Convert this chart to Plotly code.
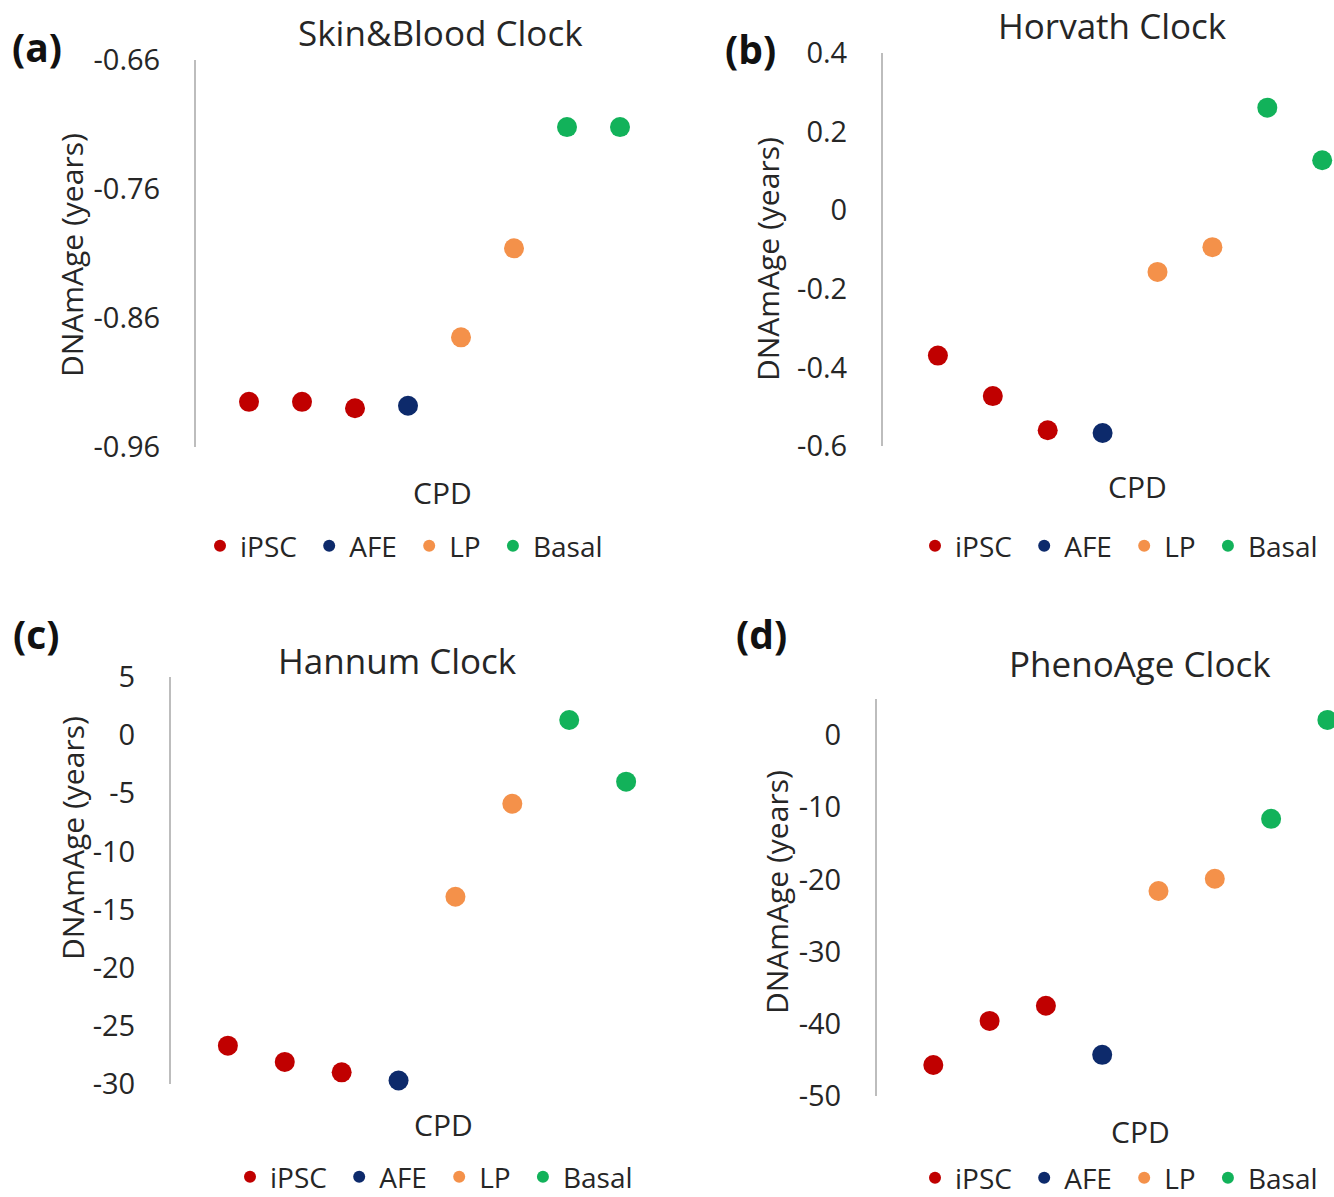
import plotly.graph_objects as go

# ---------------- data ----------------
groups = ["iPSC", "AFE", "LP", "Basal"]
legend_names = ["iPSC\u00a0", "AFE\u00a0", "LP\u00a0", "Basal"]
colors = ["#C00000", "#0D2A6B", "#F4914A", "#12B25A"]
group_x = {"iPSC": [1, 2, 3], "AFE": [4], "LP": [5, 6], "Basal": [7, 8]}

skin_blood = {"iPSC": [-0.925, -0.925, -0.930], "AFE": [-0.928],
              "LP": [-0.875, -0.806], "Basal": [-0.712, -0.712]}
horvath = {"iPSC": [-0.370, -0.473, -0.560], "AFE": [-0.567],
           "LP": [-0.157, -0.094], "Basal": [0.261, 0.127]}
hannum = {"iPSC": [-26.7, -28.1, -29.0], "AFE": [-29.7],
          "LP": [-13.9, -5.9], "Basal": [1.3, -4.0]}
phenoage = {"iPSC": [-45.7, -39.6, -37.5], "AFE": [-44.3],
            "LP": [-21.6, -19.9], "Basal": [-11.6, 2.1]}

titles = ["Skin&Blood Clock", "Horvath Clock", "Hannum Clock", "PhenoAge Clock"]
panel_labels = ["(a)", "(b)", "(c)", "(d)"]

ticks_a = [-0.96, -0.86, -0.76, -0.66]
ticktext_a = ["-0.96", "-0.86", "-0.76", "-0.66"]
ticks_b = [-0.6, -0.4, -0.2, 0, 0.2, 0.4]
ticktext_b = ["-0.6", "-0.4", "-0.2", "0", "0.2", "0.4"]
ticks_c = [-30, -25, -20, -15, -10, -5, 0, 5]
ticktext_c = ["-30", "-25", "-20", "-15", "-10", "-5", "0", "5"]
ticks_d = [-50, -40, -30, -20, -10, 0]
ticktext_d = ["-50", "-40", "-30", "-20", "-10", "0"]

# ---------------- layout geometry (pixels) ----------------
W, H = 1334, 1197
FONT = "Open Sans"
TXT = "#262626"

def px(x):
    return x / W

def py(y):
    return 1 - y / H

panels = [
    dict(data=skin_blood, xdom=[px(196), px(673)], xr=[0, 9],
         ydom=[py(447), py(60)], yr=[-0.96, -0.66], tv=ticks_a, tt=ticktext_a,
         title_xy=(440, 32), lab_xy=(37, 46), ytitle_xy=(72, 255), cpd_xy=(442, 492),
         leg_xy=(200, 546)),
    dict(data=horvath, xdom=[px(883), 1.0], xr=[0, (W - 883) / 54.9],
         ydom=[py(446), py(53)], yr=[-0.6, 0.4], tv=ticks_b, tt=ticktext_b,
         title_xy=(1112, 25), lab_xy=(750, 48), ytitle_xy=(768, 259), cpd_xy=(1137, 487),
         leg_xy=(915, 546)),
    dict(data=hannum, xdom=[px(171), px(683)], xr=[0, 9],
         ydom=[py(1084), py(677)], yr=[-30, 5], tv=ticks_c, tt=ticktext_c,
         title_xy=(397, 660), lab_xy=(36, 633), ytitle_xy=(72, 838), cpd_xy=(443, 1124),
         leg_xy=(230, 1177)),
    dict(data=phenoage, xdom=[px(877), 1.0], xr=[0, (W - 877) / 56.3],
         ydom=[py(1096), py(699)], yr=[-50, 5], tv=ticks_d, tt=ticktext_d,
         title_xy=(1140, 663), lab_xy=(761, 633), ytitle_xy=(776, 892), cpd_xy=(1140, 1131),
         leg_xy=(915, 1178)),
]

fig = go.Figure()
annotations = []
layout_extra = {}

for i, p in enumerate(panels):
    n = "" if i == 0 else str(i + 1)
    legname = "legend" + n
    for g, lname, c in zip(groups, legend_names, colors):
        fig.add_trace(go.Scatter(
            x=group_x[g], y=p["data"][g], mode="markers", name=lname,
            marker=dict(color=c, size=20),
            xaxis="x" + n, yaxis="y" + n, legend=legname,
            cliponaxis=False,
        ))
    layout_extra["xaxis" + n] = dict(
        domain=p["xdom"], range=p["xr"], anchor="y" + n,
        showline=False, showgrid=False, zeroline=False,
        showticklabels=False, ticks="", fixedrange=True,
    )
    layout_extra["yaxis" + n] = dict(
        domain=p["ydom"], range=p["yr"], anchor="x" + n,
        showline=True, linecolor="#BDBDBD", linewidth=2,
        showgrid=False, zeroline=False,
        tickmode="array", tickvals=p["tv"], ticktext=p["tt"],
        ticks="outside", ticklen=28, tickcolor="rgba(0,0,0,0)",
        tickfont=dict(family=FONT, size=29, color=TXT),
    )
    lgx, lgy = p["leg_xy"]
    layout_extra[legname] = dict(
        orientation="h", x=px(lgx), y=py(lgy),
        xanchor="left", yanchor="middle", xref="paper", yref="paper",
        font=dict(family=FONT, size=28, color=TXT),
        itemsizing="constant", bgcolor="rgba(0,0,0,0)",
        itemwidth=30, tracegroupgap=0,
    )
    tx, ty = p["title_xy"]
    annotations.append(dict(text=titles[i], x=px(tx), y=py(ty), xref="paper", yref="paper",
                            showarrow=False, xanchor="center", yanchor="middle",
                            font=dict(family=FONT, size=35, color=TXT)))
    lx, ly = p["lab_xy"]
    annotations.append(dict(text="<b>" + panel_labels[i] + "</b>", x=px(lx), y=py(ly),
                            xref="paper", yref="paper", showarrow=False,
                            xanchor="center", yanchor="middle",
                            font=dict(family=FONT, size=39, color="#111111")))
    yx, yy = p["ytitle_xy"]
    annotations.append(dict(text="DNAmAge (years)", x=px(yx), y=py(yy), xref="paper", yref="paper",
                            showarrow=False, xanchor="center", yanchor="middle", textangle=-90,
                            font=dict(family=FONT, size=30, color=TXT)))
    cx, cy = p["cpd_xy"]
    annotations.append(dict(text="CPD", x=px(cx), y=py(cy), xref="paper", yref="paper",
                            showarrow=False, xanchor="center", yanchor="middle",
                            font=dict(family=FONT, size=30, color=TXT)))

fig.update_layout(
    width=W, height=H,
    margin=dict(l=0, r=0, t=0, b=0, autoexpand=False),
    paper_bgcolor="white", plot_bgcolor="white",
    showlegend=True,
    annotations=annotations,
    **layout_extra,
)

fig.write_html("out.html", config={"displayModeBar": False},
               post_script="document.body.style.margin='0';")
